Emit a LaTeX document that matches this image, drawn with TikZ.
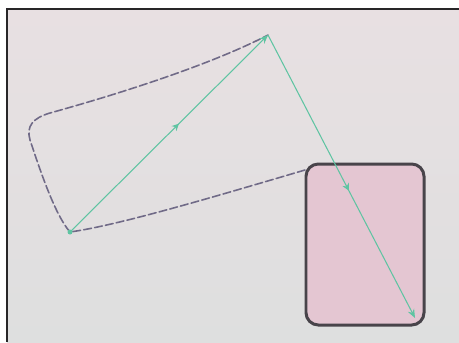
\documentclass[tikz,border=0pt]{standalone}
\usepackage{tikz}
\usetikzlibrary{arrows.meta, backgrounds, shadings, decorations.markings, calc}

\definecolor{paperpink}{RGB}{232,224,226}
\definecolor{papergray}{RGB}{222,223,223}
\definecolor{frameink}{RGB}{40,38,40}
\definecolor{dashink}{RGB}{112,106,135}
\definecolor{boxpink}{RGB}{228,198,210}
\definecolor{boxink}{RGB}{72,68,74}
\definecolor{vecgreen}{RGB}{95,196,162}

\tikzset{
    sketchline/.style={dashink, line width=0.9pt, dash pattern=on 4.5pt off 1.8pt, line cap=round},
    vecline/.style={vecgreen, line width=0.6pt, -{Stealth[length=5pt, width=4pt]},
        postaction={decorate}, decoration={markings,
            mark=at position 0.55 with {\arrow{Stealth[length=4pt, width=4pt]}}}},
}

\begin{document}
\begin{tikzpicture}[x=0.02cm, y=-0.02cm]
    \useasboundingbox (0,0) rectangle (459,342);

    % paper and photo edge
    \fill[white] (0,0) rectangle (459,342);
    \shade[top color=paperpink, bottom color=papergray] (7,9) rectangle (459,342);
    \draw[frameink, line width=1.3pt] (7,342) -- (7,9) -- (459,9);

    % points of the sketch
    \coordinate (A) at (70,232);
    \coordinate (B) at (268,35);
    \coordinate (C) at (415,318);

    % Box : filled rounded block
    \draw[boxink, fill=boxpink, line width=1.7pt, rounded corners=7pt]
        (306,164) rectangle (424,325);

    % dashed outline (open on the right)
    \draw[sketchline] (305,170) .. controls (220,195) and (120,225) .. (A)
        .. controls (55,215) and (40,170) .. (30,140)
        .. controls (26,126) and (33,118) .. (50,113)
        .. controls (140,88) and (220,60) .. (B);

    % vectors
    \draw[vecline] (A) -- (B);
    \draw[vecline] (B) -- (C);
    \fill[vecgreen] (A) circle (2.5);
\end{tikzpicture}
\end{document}
